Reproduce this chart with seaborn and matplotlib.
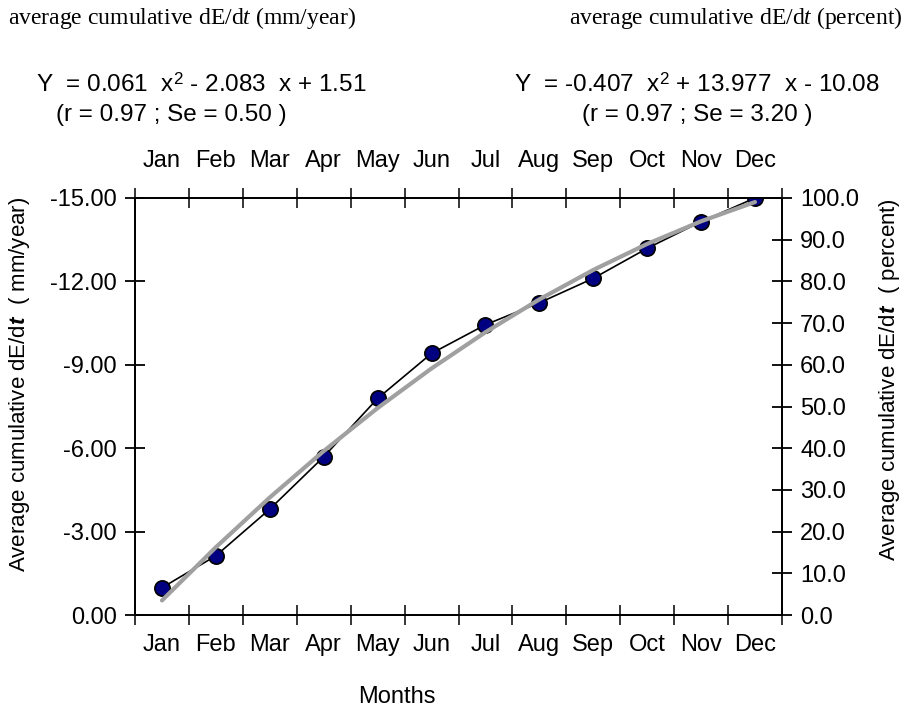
import numpy as np
import pandas as pd
import matplotlib
matplotlib.use("Agg")
import matplotlib.pyplot as plt
import seaborn as sns

# Monthly average cumulative erosion rate (mm/year)
months = ["Jan", "Feb", "Mar", "Apr", "May", "Jun",
          "Jul", "Aug", "Sep", "Oct", "Nov", "Dec"]
month_num = list(range(1, 13))
cum_mm = [-0.98, -2.13, -3.81, -5.69, -7.79, -9.41,
          -10.44, -11.23, -12.11, -13.19, -14.15, -15.00]

# Quadratic fit on the percent scale (coefficients as printed)
fit_pct_coef = [-0.407, 13.977, -10.08]
fit_mm_coef = [0.061, -2.083, 1.51]

left_ticks = [0, -3, -6, -9, -12, -15]
right_ticks = [0, 10, 20, 30, 40, 50, 60, 70, 80, 90, 100]

sns.set_theme(style="white")
plt.rcParams["font.family"] = ["Liberation Sans", "DejaVu Sans"]
plt.rcParams["text.color"] = "black"
plt.rcParams["axes.labelcolor"] = "black"
plt.rcParams["mathtext.fontset"] = "custom"
plt.rcParams["mathtext.rm"] = "Liberation Sans"
plt.rcParams["mathtext.it"] = "Liberation Serif:italic"
plt.rcParams["mathtext.bfit"] = "Liberation Sans:italic:bold"

FS = 17
W, H = 906, 710
fig = plt.figure(figsize=(W / 100, H / 100), dpi=100)
ax = fig.add_axes([135 / W, 1 - 615 / H, (782 - 135) / W, (615 - 198) / H])

df = pd.DataFrame({"month": month_num, "mm": cum_mm})
sns.lineplot(data=df, x="month", y="mm", ax=ax, color="black", lw=1.2,
             marker="o", markersize=11, markerfacecolor="#000080",
             markeredgecolor="black", markeredgewidth=1.2, zorder=3)

ax.set_xlim(0.5, 12.5)
ax.set_ylim(0, -15)
ax.set_yticks(left_ticks)
ax.set_yticklabels([f"{v:.2f}" for v in left_ticks])
ax.set_xticks(np.arange(0.5, 13, 1.0))
ax.set_xticklabels([])
ax.set_xticks(month_num, minor=True)
ax.set_xticklabels(months, minor=True)
ax.set_xlabel("")
ax.set_ylabel("")

# Month names repeated above the plot
top = ax.secondary_xaxis("top")
top.set_xticks(month_num)
top.set_xticklabels(months)
top.tick_params(axis="x", length=0, pad=19, labelsize=FS, colors="black")
top.spines["top"].set_visible(False)

ax2 = ax.twinx()
fit_df = pd.DataFrame({"month": month_num,
                       "pct": np.polyval(fit_pct_coef, month_num)})
sns.lineplot(data=fit_df, x="month", y="pct", ax=ax2, color="#a0a0a0", lw=3)
ax2.set_ylim(0, 100)
ax2.set_yticks(right_ticks)
ax2.set_yticklabels([f"{v:.1f}" for v in right_ticks])
ax2.set_ylabel("")

for a in (ax, ax2):
    for s in a.spines.values():
        s.set_visible(True)
        s.set_color("black")
        s.set_linewidth(1.3)

ax.tick_params(axis="y", which="major", direction="inout", length=14, width=1.3,
               pad=6, labelsize=FS, colors="black", left=True)
ax.tick_params(axis="x", which="major", direction="inout", length=14, width=1.3,
               top=True, bottom=True, labelbottom=False, labeltop=False)
ax.tick_params(axis="x", which="minor", length=0, pad=14, labelsize=FS,
               top=False, bottom=True, labeltop=False, labelbottom=True,
               colors="black")
ax2.tick_params(axis="y", which="major", direction="inout", length=14, width=1.3,
                pad=6, labelsize=FS, colors="black", right=True)

# Headers and fit equations
fig.text(8 / W, 1 - 18 / H, r"average cumulative dE/d$t$ (mm/year)",
         family="Liberation Serif", fontsize=17, ha="left", va="center")
fig.text(903 / W, 1 - 18 / H, r"average cumulative dE/d$t$ (percent)",
         family="Liberation Serif", fontsize=17, ha="right", va="center")

fig.text(36 / W, 1 - 85 / H,
         f"Y  = {fit_mm_coef[0]:.3f}  x$^2$ - {abs(fit_mm_coef[1]):.3f}  x + {fit_mm_coef[2]:.2f}",
         fontsize=17.5, ha="left", va="center")
fig.text(56 / W, 1 - 115 / H, "(r = 0.97 ; Se = 0.50 )",
         fontsize=17.5, ha="left", va="center")
fig.text(697 / W, 1 - 85 / H,
         f"Y  = {fit_pct_coef[0]:.3f}  x$^2$ + {fit_pct_coef[1]:.3f}  x - {abs(fit_pct_coef[2]):.2f}",
         fontsize=17.5, ha="center", va="center")
fig.text(697 / W, 1 - 115 / H, "(r = 0.97 ; Se = 3.20 )",
         fontsize=17.5, ha="center", va="center")

fig.text(397 / W, 1 - 697 / H, "Months", fontsize=FS, ha="center", va="center")
fig.text(20 / W, 1 - 384 / H, r"Average cumulative dE/d$\mathbfit{t}$  ( mm/year)",
         fontsize=16, rotation=90, ha="center", va="center")
fig.text(890 / W, 1 - 380 / H, r"Average cumulative dE/d$\mathbfit{t}$  ( percent)",
         fontsize=16, rotation=90, ha="center", va="center")

fig.savefig("out.png", dpi=100, facecolor="white")
